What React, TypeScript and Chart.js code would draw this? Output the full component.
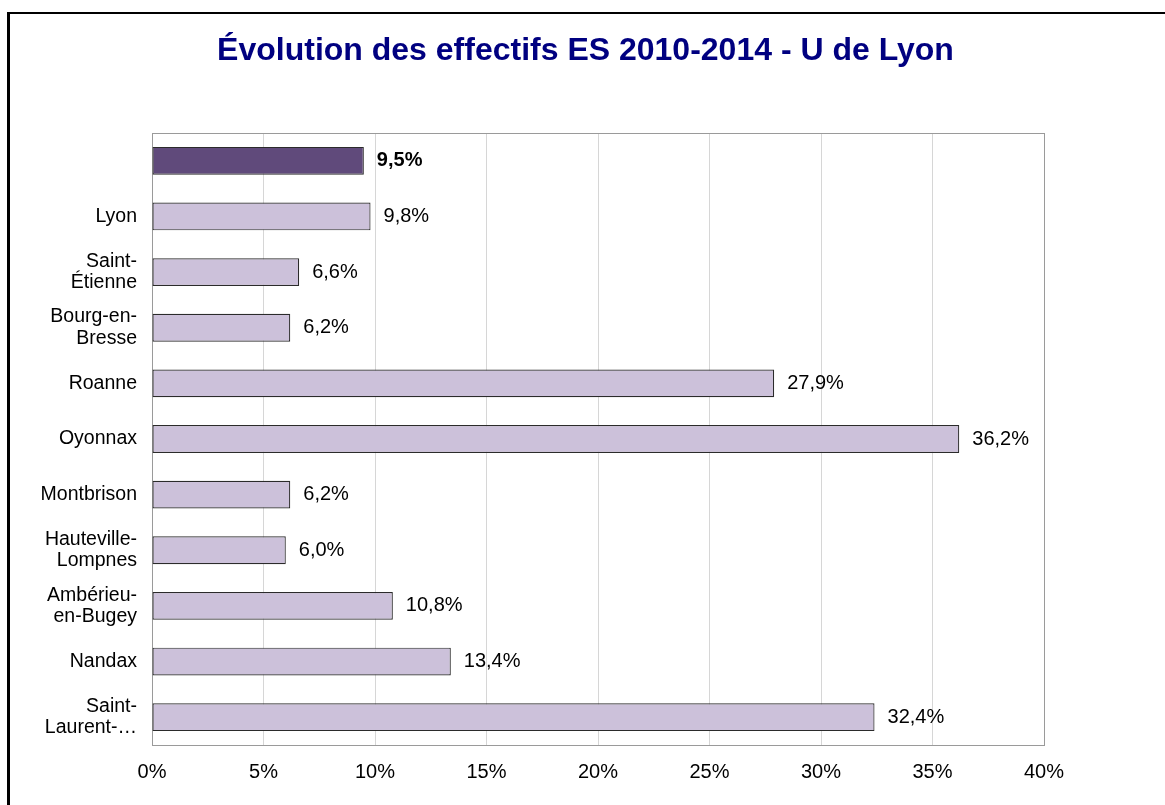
import React, { useEffect, useRef } from "react";
import { Chart, registerables } from "chart.js";

Chart.register(...registerables);

const TITLE = "Évolution des effectifs ES 2010-2014 - U de Lyon";
const categories: (string | string[])[] = [
  "",
  "Lyon",
  ["Saint-", "Étienne"],
  ["Bourg-en-", "Bresse"],
  "Roanne",
  "Oyonnax",
  "Montbrison",
  ["Hauteville-", "Lompnes"],
  ["Ambérieu-", "en-Bugey"],
  "Nandax",
  ["Saint-", "Laurent-…"],
];
const values = [9.5, 9.8, 6.6, 6.2, 27.9, 36.2, 6.2, 6.0, 10.8, 13.4, 32.4];
const highlightIndex = 0;
const xTicksMin = 0;
const xTicksMax = 40;
const xTicksStep = 5;

const FONT = "'Liberation Sans', Arial, sans-serif";

const fmt = (v: number) => v.toFixed(1).replace(".", ",") + "%";

const titlePlugin = {
  id: "customTitle",
  afterDraw(chart: any) {
    const { ctx } = chart;
    ctx.save();
    ctx.fillStyle = "#000080";
    ctx.font = "bold 32px " + FONT;
    ctx.textAlign = "center";
    ctx.textBaseline = "middle";
    ctx.fillText(TITLE, chart.width / 2 + 3, 51);
    ctx.restore();
  },
};

const plotBorder = {
  id: "plotBorder",
  beforeDatasetsDraw(chart: any) {
    const { ctx, chartArea } = chart;
    ctx.save();
    ctx.strokeStyle = "#9a9a9a";
    ctx.lineWidth = 1;
    ctx.strokeRect(
      Math.round(chartArea.left) + 0.5,
      Math.round(chartArea.top) + 0.5,
      Math.round(chartArea.right - chartArea.left),
      Math.round(chartArea.bottom - chartArea.top)
    );
    ctx.restore();
  },
};

const valueLabels = {
  id: "valueLabels",
  afterDatasetsDraw(chart: any) {
    const { ctx } = chart;
    const meta = chart.getDatasetMeta(0);
    ctx.save();
    ctx.fillStyle = "#000";
    ctx.textBaseline = "middle";
    ctx.textAlign = "left";
    meta.data.forEach((bar: any, i: number) => {
      ctx.font = (i === highlightIndex ? "bold " : "") + "20px " + FONT;
      ctx.fillText(fmt(values[i]), bar.x + 13, bar.y);
    });
    ctx.restore();
  },
};

export default function App() {
  const ref = useRef<HTMLCanvasElement | null>(null);

  useEffect(() => {
    if (!ref.current) return;
    const chart = new Chart(ref.current, {
      type: "bar",
      data: {
        labels: categories as any,
        datasets: [
          {
            data: values,
            backgroundColor: values.map((_, i) => (i === highlightIndex ? "#604A7B" : "#CCC1DA")),
            borderColor: "#2b2b2b",
            borderWidth: 1.2,
            borderSkipped: false,
            barPercentage: 0.5,
            categoryPercentage: 1,
          },
        ],
      },
      options: {
        indexAxis: "y",
        responsive: false,
        animation: false,
        layout: { padding: { left: 0, right: 121, top: 133, bottom: 0 } },
        plugins: {
          legend: { display: false },
          tooltip: { enabled: false },
          title: { display: false },
        },
        scales: {
          x: {
            min: xTicksMin,
            max: xTicksMax,
            ticks: {
              stepSize: xTicksStep,
              callback: (v: any) => v + "%",
              color: "#000",
              font: { family: FONT, size: 20 },
              padding: 15,
            },
            grid: { color: "#d6d6d6", drawTicks: false },
            border: { display: false },
            afterFit: (s: any) => {
              s.height = 60;
            },
          },
          y: {
            ticks: {
              color: "#000",
              font: { family: FONT, size: 19.5, lineHeight: 1.1 },
              padding: 15,
              autoSkip: false,
            },
            grid: { display: false, drawTicks: false },
            border: { display: false },
            afterFit: (s: any) => {
              s.width = 152;
            },
          },
        },
      },
      plugins: [plotBorder, valueLabels, titlePlugin],
    });
    return () => chart.destroy();
  }, []);

  return (
    <>
      <div
        style={{
          position: "fixed",
          left: 7,
          top: 12,
          width: 1300,
          height: 1000,
          borderLeft: "3px solid #000",
          borderTop: "2px solid #000",
          background: "#fff",
        }}
      />
      <canvas
        ref={ref}
        width={1165}
        height={805}
        style={{ position: "fixed", left: 0, top: 0, width: 1165, height: 805 }}
      />
    </>
  );
}
